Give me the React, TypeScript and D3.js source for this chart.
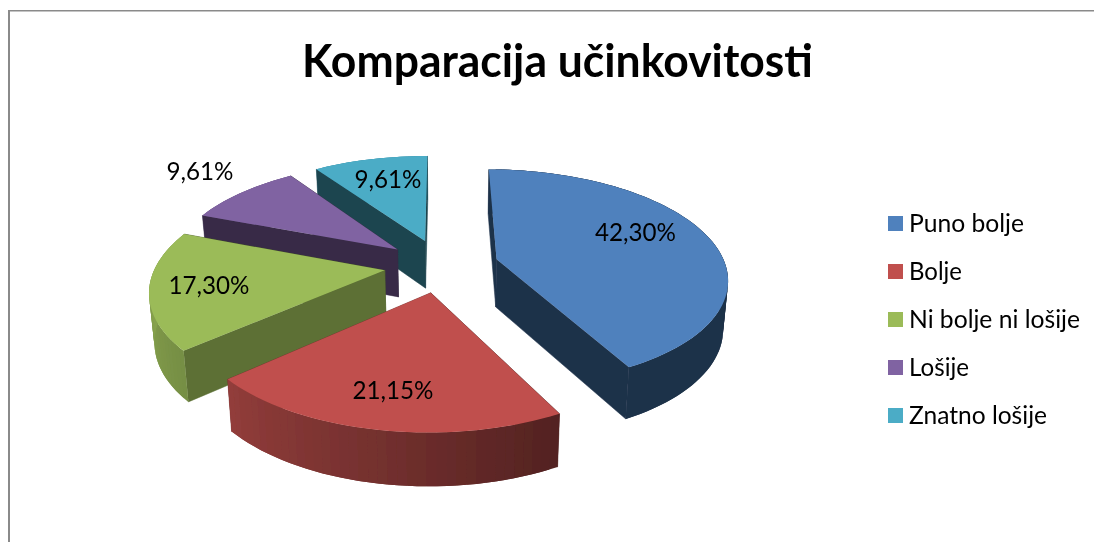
import React from "react";
import * as d3 from "d3";

const title = "Komparacija učinkovitosti";
const categories = ["Puno bolje", "Bolje", "Ni bolje ni lošije", "Lošije", "Znatno lošije"];
const values = [42.3, 21.15, 17.3, 9.61, 9.61];
const valueLabels = ["42,30%", "21,15%", "17,30%", "9,61%", "9,61%"];
const colors = ["#4F81BD", "#C0504D", "#9BBB59", "#8064A2", "#4BACC6"];
const paintOrder = [4, 3, 2, 0, 1];

// layout
const CX = 441.5, CY = 265.5, RX = 229, RY = 106.5, PERSP = 0.165, EXPLODE = 0.25, DEPTH = 48, CONVERGE = 0.018, VANISH_X = 450;
const labelPos: [number, number][] = [[635.5, 241], [393, 399], [209, 294], [200, 180], [388, 188]];
const labelWidth = [81, 81, 81, 67, 67];
const legendWidth = [115, 53, 171, 60, 138];
const legendY = d3.scalePoint<number>().domain(d3.range(5)).range([224, 416]);

const sx = d3.scaleLinear().domain([-1, 1]).range([CX - RX, CX + RX]);
const sy = d3.scaleLinear().domain([-1, 1]).range([CY - RY, CY + RY]);
const deg = (r: number) => (r * 180) / Math.PI;

const outerShade = d3.scaleLinear().domain([90, 152, 153, 190, 228, 270, 360]).range([0.38, 0.39, 0.43, 0.6, 0.76, 0.88, 0.88]).clamp(true);
const radialShade = d3.scaleLinear().domain([152, 228, 290, 325]).range([0.39, 0.6, 0.44, 0.4]).clamp(true);
const shade = (c: string, f: number) => {
  const q = d3.rgb(c);
  return d3.rgb(q.r * f, q.g * f, q.b * f).formatHex();
};

type P = { x: number; y: number; w: number };
const line = d3.line<[number, number]>().x((d) => d[0]).y((d) => d[1]);

export default function App() {
  const arcs = d3.pie<number>().value((d) => d).sort(null)(values);
  const slices = arcs.map((a, i) => {
    const mid = (a.startAngle + a.endAngle) / 2;
    const ox = EXPLODE * Math.sin(mid);
    const oy = -EXPLODE * Math.cos(mid);
    const ground = (X: number, Y: number): P => {
      const w = 1 - PERSP * Y;
      return { x: sx(X / w), y: sy(Y / w), w };
    };
    const low = (p: P): [number, number] => [p.x + (VANISH_X - p.x) * CONVERGE, p.y + DEPTH / Math.sqrt(p.w)];
    const rim = (t: number) => ground(ox + Math.sin(t), oy - Math.cos(t));
    const apex = ground(ox, oy);
    const n = Math.max(8, Math.round(deg(a.endAngle - a.startAngle) / 2));
    const ts = d3.range(n + 1).map((k) => a.startAngle + ((a.endAngle - a.startAngle) * k) / n);
    const rims = ts.map(rim);
    const top: [number, number][] = [[apex.x, apex.y], ...rims.map((p) => [p.x, p.y] as [number, number])];
    const wall = (p: P) => line([[apex.x, apex.y], [p.x, p.y], low(p), low(apex)])! + "Z";
    const segs = rims.slice(0, -1).map((p, k) => {
      const q = rims[Math.min(k + 2, n)];
      const m = deg((ts[k] + ts[k + 1]) / 2);
      return {
        d: line([[p.x, p.y], [rims[k + 1].x, rims[k + 1].y], [q.x, q.y], low(q), low(rims[k + 1]), low(p)])! + "Z",
        fill: shade(colors[i], outerShade(m)),
        front: Math.cos(ts[k]) < 0.05,
      };
    });
    const w0 = { d: wall(rims[0]), fill: shade(colors[i], radialShade(deg(a.startAngle))), y: rims[0].y };
    const w1 = { d: wall(rims[n]), fill: shade(colors[i], radialShade(deg(a.endAngle) > 359 ? 325 : deg(a.endAngle))), y: rims[n].y };
    return { i, top: line(top)! + "Z", segs, walls: [w0, w1].sort((p, q) => p.y - q.y) };
  });

  return (
    <svg width={1094} height={542} style={{ position: "fixed", left: 0, top: 0, background: "#fff" }} fontFamily="Lato, Carlito, sans-serif">
      <defs>
        <filter id="soft" x="-5%" y="-5%" width="110%" height="110%">
          <feGaussianBlur stdDeviation="0.45" />
        </filter>
      </defs>
      <g fill="none" stroke="#8a8a8a">
        <line x1={9} y1={10.7} x2={1094} y2={10.7} strokeWidth={1.5} />
        <line x1={9} y1={10} x2={9} y2={542} strokeWidth={2} />
      </g>
      <g filter="url(#soft)">
        <text x={557.5} y={77} textAnchor="middle" fontSize={46} fontWeight={700} textLength={511} lengthAdjust="spacingAndGlyphs" fill="#000">
          {title}
        </text>
        {paintOrder.map((idx) => {
          const s = slices[idx];
          return (
            <g key={idx}>
              {s.segs.filter((g) => !g.front).map((g, k) => (
                <path key={k} d={g.d} fill={g.fill} />
              ))}
              {s.walls.map((w, k) => (
                <path key={k} d={w.d} fill={w.fill} stroke={w.fill} strokeWidth={0.5} />
              ))}
              {s.segs.filter((g) => g.front).map((g, k) => (
                <path key={k} d={g.d} fill={g.fill} />
              ))}
              <path d={s.top} fill={colors[idx]} />
            </g>
          );
        })}
        {valueLabels.map((t, i) => (
          <text key={i} x={labelPos[i][0]} y={labelPos[i][1]} textAnchor="middle" fontSize={25} textLength={labelWidth[i]} lengthAdjust="spacingAndGlyphs" fill="#000">
            {t}
          </text>
        ))}
        {categories.map((c, i) => (
          <g key={c}>
            <rect x={888} y={legendY(i)! - 8} width={15} height={15} fill={colors[i]} />
            <text x={909} y={legendY(i)! + 8} fontSize={25} textLength={legendWidth[i]} lengthAdjust="spacingAndGlyphs" fill="#000">
              {c}
            </text>
          </g>
        ))}
      </g>
    </svg>
  );
}
